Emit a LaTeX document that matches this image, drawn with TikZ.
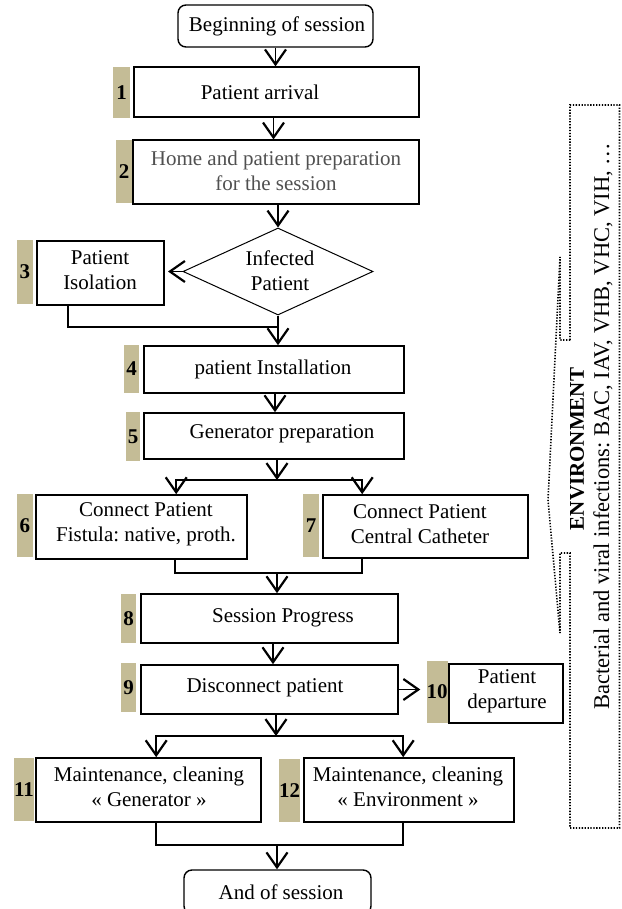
\documentclass[tikz,border=0pt]{standalone}
\usepackage{fontspec}
\setmainfont{Liberation Serif}
\frenchspacing
\usetikzlibrary{arrows.meta,shapes.geometric,calc}
\definecolor{tagtan}{RGB}{196,188,150}
\definecolor{txtgray}{RGB}{80,80,80}
\begin{document}
\begin{tikzpicture}[x=1pt,y=-1pt,
  box/.style={draw, line width=1.6pt, inner sep=0pt},
  tag/.style={fill=tagtan, inner sep=0pt, font=\fontsize{21}{25}\selectfont\bfseries},
  txt/.style={align=center, inner sep=0pt, font=\fontsize{21}{25}\selectfont},
  conn/.style={line width=1.9pt},
  arr/.style={line width=1.9pt, -{Straight Barb[length=15pt,width=21pt,line width=2.2pt]}},
  env/.style={line width=1.6pt, dash pattern=on 1.3pt off 1.6pt}]
\useasboundingbox (0,0) rectangle (621,909);

% start / end
\node[box, rounded corners=8pt, line width=1.4pt, minimum width=195pt, minimum height=42pt] (start) at (275.5,26) {};
\node[txt] (tstart) at (277,26) {Beginning of session};
\node[box, rounded corners=8pt, line width=1.4pt, minimum width=187pt, minimum height=44pt] (end) at (277.5,892) {};
\node[txt] (tend) at (281,892) {And of session};

% 1
\node[box, line width=1.3pt, minimum width=285pt, minimum height=50pt] (b1) at (276.5,92) {};
\node[txt] at (260,92) {Patient arrival};
\node[tag, minimum width=17pt, minimum height=51pt] (t1) at (121.5,92.5) {1};
% 2
\node[box, line width=1.1pt, minimum width=286pt, minimum height=64pt] (b2) at (276,172) {};
\node[txt, text=txtgray] at (276,171) {Home and patient preparation\\for the session};
\node[tag, minimum width=16pt, minimum height=63pt] (t2) at (124,171.5) {2};
% diamond
\node[draw, diamond, line width=1pt, minimum width=190pt, minimum height=87pt, inner sep=0pt] (dia) at (278,271.5) {};
\node[txt] at (280,271) {Infected\\Patient};
% 3
\node[box, line width=2pt, minimum width=127pt, minimum height=64pt] (b3) at (100.5,273) {};
\node[txt] at (100,270) {Patient\\Isolation};
\node[tag, minimum width=16pt, minimum height=64pt] (t3) at (25,272) {3};
% 4
\node[box, minimum width=260pt, minimum height=47pt] (b4) at (274,369.5) {};
\node[txt] at (273,369) {patient Installation};
\node[tag, minimum width=15pt, minimum height=48pt] (t4) at (131.5,369) {4};
% 5
\node[box, minimum width=260pt, minimum height=46pt] (b5) at (274,436) {};
\node[txt] at (282,434) {Generator preparation};
\node[tag, minimum width=14pt, minimum height=49pt] (t5) at (133,436.5) {5};
% 6
\node[box, minimum width=211pt, minimum height=64pt] (b6) at (141.5,527) {};
\node[txt] at (146,524) {Connect Patient\\Fistula: native, proth.};
\node[tag, minimum width=16pt, minimum height=63pt] (t6) at (25,525.5) {6};
% 7
\node[box, minimum width=205pt, minimum height=63pt] (b7) at (425.5,526.5) {};
\node[txt] at (420,524) {Connect Patient\\Central Catheter};
\node[tag, minimum width=16pt, minimum height=63pt] (t7) at (311,525.5) {7};
% 8
\node[box, minimum width=257pt, minimum height=49pt] (b8) at (269.5,618.5) {};
\node[txt] at (283,618) {Session Progress};
\node[tag, minimum width=15pt, minimum height=49pt] (t8) at (128.5,618.5) {8};
% 9
\node[box, minimum width=257pt, minimum height=49pt] (b9) at (269.5,689.5) {};
\node[txt] at (265,688) {Disconnect patient};
\node[tag, minimum width=15pt, minimum height=49pt] (t9) at (128.5,687.5) {9};
% 10
\node[box, line width=1.5pt, minimum width=114pt, minimum height=59pt] (b10) at (506,693.5) {};
\node[txt] at (507,691) {Patient\\departure};
\node[tag, minimum width=20pt, minimum height=62pt] (t10) at (437,692) {10};
% 11
\node[box, minimum width=225pt, minimum height=64pt] (b11) at (148.5,790) {};
\node[txt] at (149,787) {Maintenance, cleaning\\« Generator »};
\node[tag, minimum width=20pt, minimum height=63pt] (t11) at (24,789.5) {11};
% 12
\node[box, minimum width=210pt, minimum height=64pt] (b12) at (409,790) {};
\node[txt] at (408,787) {Maintenance, cleaning\\« Environment »};
\node[tag, minimum width=21pt, minimum height=63pt] (t12) at (289.5,790.5) {12};

% junction coordinates
\coordinate (j1) at (279,327);
\coordinate (j2) at (277,480);
\coordinate (j3) at (277,573);
\coordinate (j4) at (276,736);
\coordinate (j5) at (277,845);

% connectors
\draw[arr] (start.south) -- (start.south |- b1.north);
\draw[arr] ([xshift=-3pt]b1.south) -- ([xshift=-3pt]b1.south |- b2.north);
\draw[arr] (dia.north |- b2.south) -- (dia.north);
\draw[arr] (dia.west) -- ([xshift=3pt]b3.east |- dia.west);
\draw[conn] ([xshift=32pt]b3.south west) |- (j1);
\draw[arr] (dia.south) -- (dia.south |- b4.north);
\draw[arr] ([xshift=1pt]b4.south) -- ([xshift=1pt]b4.south |- b5.north);
\draw[arr] (j2 |- b5.south) -- (j2);
\draw[arr] (j2) -| ([xshift=141pt]b6.north west);
\draw[arr] (j2) -| ([xshift=40pt]b7.north west);
\draw[conn] ([xshift=140pt]b6.south west) |- (j3) -| ([xshift=40pt]b7.south west);
\draw[arr] (j3) -- (j3 |- b8.north);
\draw[arr] ([xshift=3.5pt]b8.south) -- ([xshift=3.5pt]b8.south |- b9.north);
\draw[arr, shorten >=6pt] (b9.east) -- (b9.east -| t10.west);
\draw[arr] (j4 |- b9.south) -- (j4);
\draw[arr] (j4) -| ([xshift=121pt]b11.north west);
\draw[arr] (j4) -| ([xshift=100pt]b12.north west);
\draw[conn] ([xshift=121pt]b11.south west) |- (j5) -| ([xshift=100pt]b12.south west);
\draw[arr] (j5) -- (j5 |- end.north);

% environment callout
\draw[env] (570,340) -- (570,105) -- (619.5,105) -- (619.5,828) -- (570,828) -- (570,553)
  -- (560,553) -- (560,633) -- (548,500) -- (560,257) -- (560,340) -- cycle;
\node[txt, rotate=90, font=\fontsize{21}{25}\selectfont\bfseries] (envt) at (577,449) {ENVIRONMENT};
\node[txt, rotate=90, font=\fontsize{22.5}{26}\selectfont] (inf) at (603,426) {Bacterial and viral infections: BAC, IAV, VHB, VHC, VIH, …};
\end{tikzpicture}
\end{document}
